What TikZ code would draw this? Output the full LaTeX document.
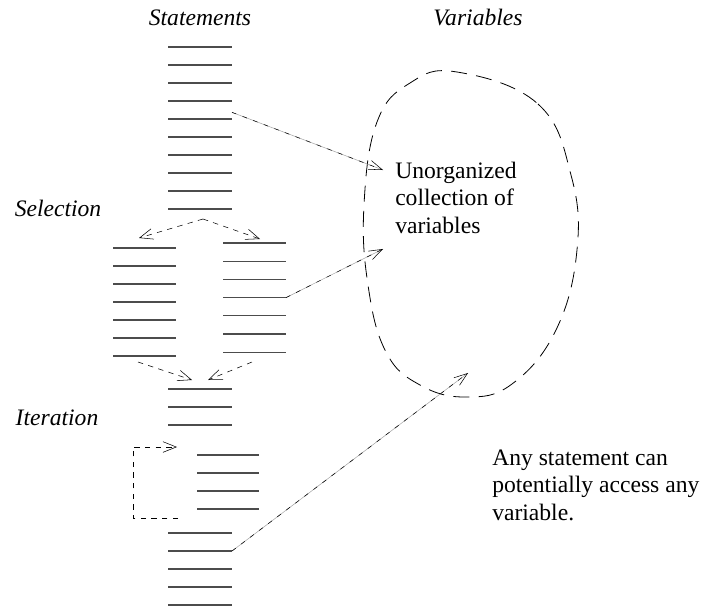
\documentclass[tikz,border=0pt]{standalone}
\usepackage{fontspec}
\setmainfont{Liberation Serif}
\usetikzlibrary{arrows.meta}

\begin{document}
\begin{tikzpicture}[
    x=0.75pt, y=-0.75pt,
    every node/.style={font=\fontsize{17.7}{20.3}\selectfont, inner sep=0pt},
    stmt/.style={draw=black!70, line width=0.9pt},
    flow/.style={-{Straight Barb[length=10pt, width=8pt]}, thin, dash pattern=on 4pt off 4pt},
    link/.style={-{Straight Barb[length=10pt, width=7pt]}, thin, dash pattern=on 3.5pt off 5pt,
        preaction={draw=black!35, solid, -}},
    blob/.style={draw, line width=0.6pt, dash pattern=on 12pt off 7pt},
    heading/.style={font=\fontsize{17.7}{20.3}\selectfont\itshape, anchor=base},
    note/.style={align=left, anchor=base west}
]
    \useasboundingbox (0,0) rectangle (701,607);

    % Headings
    \node[heading] (hstat) at (200,25) {Statements};
    \node[heading] (hvar) at (478,25) {Variables};
    \node[heading] (hsel) at (58,216) {Selection};
    \node[heading] (hit) at (57,425) {Iteration};

    % Statements
    \foreach \i in {0,...,9}
        \draw[stmt] (168,47+18*\i) -- (232,47+18*\i) coordinate (st\i);
    \foreach \i in {0,...,6} {
        \draw[stmt] (113,248+18*\i) -- (176,248+18*\i) coordinate (sl\i);
        \draw[stmt] (223,243+18.2*\i) -- (286,243+18.2*\i) coordinate (sr\i);
    }
    \foreach \i in {0,...,2}
        \draw[stmt] (168,389+18*\i) -- (232,389+18*\i) coordinate (sm\i);
    \foreach \i in {0,...,3}
        \draw[stmt] (197,455+18*\i) -- (259,455+18*\i) coordinate (si\i);
    \foreach \i in {0,...,4}
        \draw[stmt] (168,533+18*\i) -- (232,533+18*\i) coordinate (sb\i);

    % Control flow
    \coordinate (split) at (203,219);
    \coordinate (selL) at (139,238);
    \coordinate (selR) at (260,239);
    \coordinate (joinL) at (138,362);
    \coordinate (joinR) at (252,362);
    \coordinate (merge) at (200,380);
    \coordinate (loopEnd) at (178,518);
    \coordinate (loopTip) at (177,447);
    \draw[flow] (split) -- (selL);
    \draw[flow] (split) -- (selR);
    \draw[flow] (joinL) -- ([xshift=-6]merge);
    \draw[flow] (joinR) -- ([xshift=6]merge);
    \draw[flow] (loopEnd) -- ++(-45,0) |- (loopTip);

    % Variables
    \draw[blob] plot[smooth cycle, tension=0.7] coordinates {
        (457,72) (538,104) (571,175) (577,250) (556,330) (512,384)
        (466,397) (420,385) (386,352) (368,285) (364,205) (377,122) (410,83)};
    \node[note] (coll) at (395,233) {Unorganized\\collection of\\variables};
    \coordinate (in1) at (383,170);
    \coordinate (in2) at (383,249);
    \coordinate (in3) at (468,373);

    % Access
    \draw[link] ([yshift=5]st4) -- (in1);
    \draw[link] (sr3) -- (in2);
    \draw[link] (sb1) -- (in3);

    \node[note] (any) at (492,520) {Any statement can\\potentially access any\\variable.};
\end{tikzpicture}
\end{document}
